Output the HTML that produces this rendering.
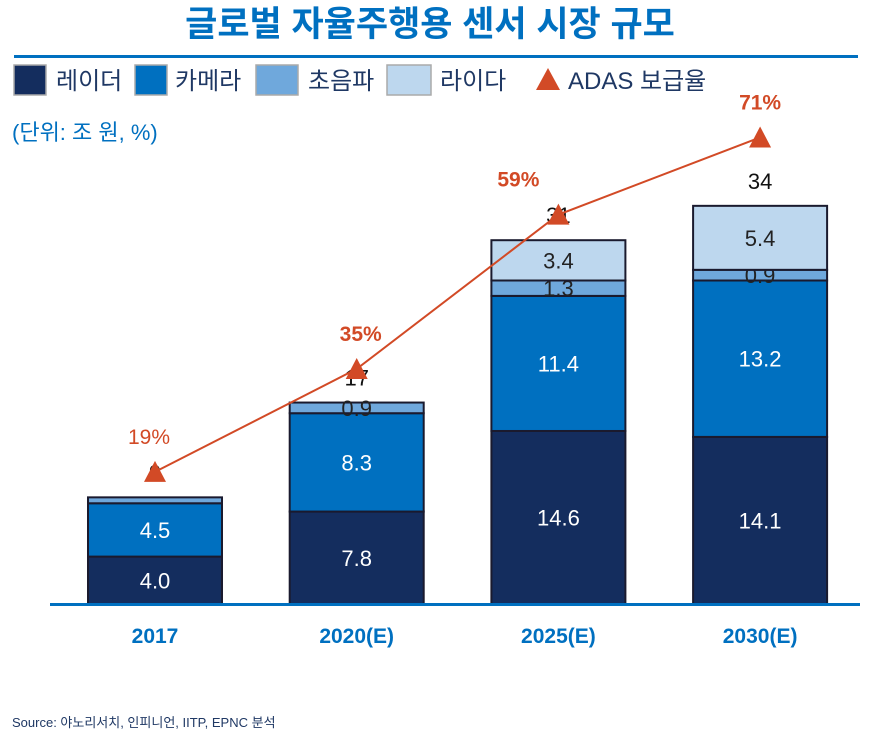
<!DOCTYPE html>
<html><head><meta charset="utf-8"><style>
body{margin:0;background:#fff;width:879px;height:750px;overflow:hidden;font-family:"Liberation Sans","Noto Sans CJK KR",sans-serif}
svg text{font-family:"Liberation Sans","Noto Sans CJK KR",sans-serif}
</style></head><body>
<svg id="chart" width="879" height="750" viewBox="0 0 879 750" xmlns="http://www.w3.org/2000/svg">
<text x="430" y="36" text-anchor="middle" font-size="35" font-weight="bold" fill="#0070c0">글로벌 자율주행용 센서 시장 규모</text>
<rect x="14" y="55" width="844" height="3" fill="#0070c0"/>
<g font-size="24" fill="#1f3864">
<rect x="14" y="65" width="32" height="30" fill="#142d5e" stroke="#aaa" stroke-width="1.5"/>
<text x="56" y="89" fill="#1f3864">레이더</text>
<rect x="135" y="65" width="32" height="30" fill="#0070c0" stroke="#aaa" stroke-width="1.5"/>
<text x="175" y="89" fill="#1f3864">카메라</text>
<rect x="256" y="65" width="42" height="30" fill="#6fa8dc" stroke="#aaa" stroke-width="1.5"/>
<text x="308" y="89" fill="#1f3864">초음파</text>
<rect x="387" y="65" width="44" height="30" fill="#bdd7ee" stroke="#aaa" stroke-width="1.5"/>
<text x="440" y="89" fill="#1f3864">라이다</text>
<polygon points="536,90 548,68 560,90" fill="#d24a26"/>
<text x="568" y="89" fill="#1f3864">ADAS 보급율</text>
</g>
<text x="12" y="140" font-size="22" fill="#0070c0">(단위: 조 원, %)</text>
<g id="bars"></g>
<rect x="50" y="603" width="810" height="3" fill="#0070c0"/>
<g id="line"></g>
<text x="12" y="727" font-size="13" fill="#1f3864">Source: 야노리서치, 인피니언, IITP, EPNC 분석</text>
</svg>
<script>
const categories=["2017","2020(E)","2025(E)","2030(E)"];
const radar=[4.0,7.8,14.6,14.1];
const camera=[4.5,8.3,11.4,13.2];
const ultrasonic=[0.5,0.9,1.3,0.9];
const lidar=[0,0,3.4,5.4];
const totals=["9","17","31","34"];
const adas=[19,35,59,71];
const showUltra=[false,true,true,true];

const NS="http://www.w3.org/2000/svg";
const base=604, unit=11.85, barW=134, x0=155, step=201.7;
const xc=i=>x0+i*step;
const yv=v=>base-v*unit;
const yp=p=>594-6.43*p;
function mk(tag,attrs,parent){const e=document.createElementNS(NS,tag);for(const k in attrs)e.setAttribute(k,attrs[k]);parent.appendChild(e);return e;}
const bars=document.getElementById('bars');
const series=[[radar,"#142d5e","#fff","radar"],[camera,"#0070c0","#fff","camera"],[ultrasonic,"#6fa8dc","#222","ultrasonic"],[lidar,"#bdd7ee","#222","lidar"]];
categories.forEach((c,i)=>{
  let cum=0;
  series.forEach(([arr,col,tc,nm],s)=>{
    const v=arr[i]; if(v<=0)return;
    const y1=yv(cum+v), y0=yv(cum);
    const r=mk('rect',{x:xc(i)-barW/2,y:y1,width:barW,height:y0-y1,fill:col,stroke:'#1a1a2e','stroke-width':2},bars);
    
    
    if(s<2||s==3||(s==2&&showUltra[i])){
      const t=mk('text',{x:xc(i),y:(y0+y1)/2+8,'text-anchor':'middle','font-size':22,fill:tc},bars);
      t.textContent=v.toFixed(1);
      
      
    }
    cum+=v;
  });
  const tot=radar[i]+camera[i]+ultrasonic[i]+lidar[i];
  const tt=mk('text',{x:xc(i),y:yv(tot)-17,'text-anchor':'middle','font-size':22,fill:'#111'},bars);
  tt.textContent=totals[i];
  
  
  const xl=mk('text',{x:xc(i),y:643,'text-anchor':'middle','font-size':21,'font-weight':'bold',fill:'#0070c0'},bars);
  xl.textContent=c;
  
  
});
const lg=document.getElementById('line');
const pts=adas.map((p,i)=>[xc(i),yp(p)]);
const pl=mk('polyline',{points:pts.map(p=>p.join(',')).join(' '),fill:'none',stroke:'#d24a26','stroke-width':2},lg);


const lblDx=[-6,4,-40,0];
adas.forEach((p,i)=>{
  const [x,y]=pts[i];
  const m=mk('polygon',{points:`${x-11},${y+10} ${x},${y-11} ${x+11},${y+10}`,fill:'#d24a26'},lg);
  
  
  const t=mk('text',{x:x+lblDx[i],y:y-28,'text-anchor':'middle','font-size':21,'font-weight':i==0?'normal':'bold',fill:'#d24a26'},lg);
  t.textContent=p+'%';
  
  
});
</script>
</body></html>
